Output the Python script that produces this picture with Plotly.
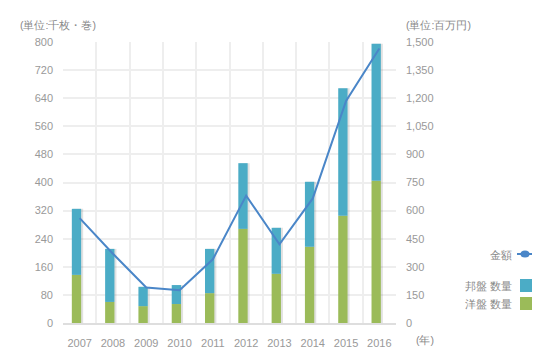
import plotly.graph_objects as go

years = ["2007", "2008", "2009", "2010", "2011", "2012", "2013", "2014", "2015", "2016"]
yoban = [137, 60, 48, 54, 85, 268, 140, 217, 305, 405]      # 洋盤 数量 (千枚・巻)
houban = [188, 151, 55, 54, 126, 187, 131, 185, 363, 390]   # 邦盤 数量 (千枚・巻)
kingaku = [560, 370, 190, 175, 340, 680, 420, 665, 1185, 1465]  # 金額 (百万円)

left_ticks = [0, 80, 160, 240, 320, 400, 480, 560, 640, 720, 800]
right_ticks = [0, 150, 300, 450, 600, 750, 900, 1050, 1200, 1350, 1500]

TEAL = "#4bacc6"
GREEN = "#9bbb59"
LINE = "#4a86c8"
GREY = "#999999"
FONT = "Liberation Sans, Arial, sans-serif"

totals = [a + b for a, b in zip(yoban, houban)]

W = 0.28
OFF = -0.235

fig = go.Figure()
# soft shadow behind bars
fig.add_trace(go.Bar(x=years, y=totals, width=W + 0.02, offset=OFF + 0.04,
                     marker=dict(color="rgba(90,90,90,0.18)", line=dict(width=0)),
                     hoverinfo="skip", showlegend=False))
fig.add_trace(go.Bar(x=years, y=yoban, name="洋盤 数量", width=W, offset=OFF,
                     marker=dict(color=GREEN, line=dict(width=0))))
fig.add_trace(go.Bar(x=years, y=houban, base=yoban, name="邦盤 数量", width=W, offset=OFF,
                     marker=dict(color=TEAL, line=dict(width=0))))
fig.add_trace(go.Scatter(x=years, y=kingaku, name="金額", yaxis="y2", mode="lines",
                         line=dict(color=LINE, width=2)))

# target plot area in window pixels (page body has an 8px margin)
PAD = 8
L, R, T, B = 63, 396, 42, 323
pw, ph = R - L, B - T

def px(x):
    return (x - L) / pw

def py(y):
    return (B - y) / ph

fig.update_layout(
    width=540 - PAD, height=360 - PAD,
    margin=dict(l=L - PAD, r=540 - R, t=T - PAD, b=360 - B, autoexpand=False),
    paper_bgcolor="white", plot_bgcolor="white",
    barmode="overlay", showlegend=False,
    font=dict(family=FONT, color=GREY, size=11),
    xaxis=dict(type="category", tickson="boundaries", showgrid=True,
               gridcolor="#eeeeee", gridwidth=2, ticks="", ticklabelstandoff=9,
               showline=True, linecolor="#dedede", linewidth=2, automargin=False,
               tickfont=dict(size=11, color=GREY), range=[-0.5, 9.5]),
    yaxis=dict(range=[0, 800], tickvals=left_ticks, showgrid=True,
               gridcolor="#eeeeee", gridwidth=2, zeroline=False, ticks="",
               automargin=False,
               ticklabelstandoff=9, tickfont=dict(size=11, color=GREY)),
    yaxis2=dict(range=[0, 1500], tickvals=right_ticks, overlaying="y", side="right",
                showgrid=False, zeroline=False, ticks="", tickformat=",",
                automargin=False,
                ticklabelstandoff=9, tickfont=dict(size=11, color=GREY)),
)

ann = [
    dict(text="(単位:千枚・巻)", x=px(18), y=py(25), xanchor="left", yanchor="middle"),
    dict(text="(単位:百万円)", x=px(404), y=py(25), xanchor="left", yanchor="middle"),
    dict(text="(年)", x=px(414), y=py(340), xanchor="left", yanchor="middle"),
    dict(text="金額", x=px(514), y=py(255), xanchor="right", yanchor="middle"),
    dict(text="邦盤 数量", x=px(514), y=py(286), xanchor="right", yanchor="middle"),
    dict(text="洋盤 数量", x=px(514), y=py(304), xanchor="right", yanchor="middle"),
]
for a in ann:
    fig.add_annotation(xref="paper", yref="paper", showarrow=False,
                       font=dict(size=10.5, color="#888888", family=FONT), **a)

shapes = [
    dict(type="line", x0=px(517), x1=px(533), y0=py(254), y1=py(254),
         line=dict(color=LINE, width=2)),
    dict(type="circle", x0=px(520.5), x1=px(529.5), y0=py(250.5), y1=py(257.5),
         fillcolor=LINE, line=dict(color=LINE, width=0)),
    dict(type="rect", x0=px(520), x1=px(533), y0=py(279), y1=py(292),
         fillcolor=TEAL, line=dict(width=0)),
    dict(type="rect", x0=px(520), x1=px(533), y0=py(297), y1=py(310),
         fillcolor=GREEN, line=dict(width=0)),
]
for s in shapes:
    fig.add_shape(xref="paper", yref="paper", **s)

fig.write_html("out.html")
